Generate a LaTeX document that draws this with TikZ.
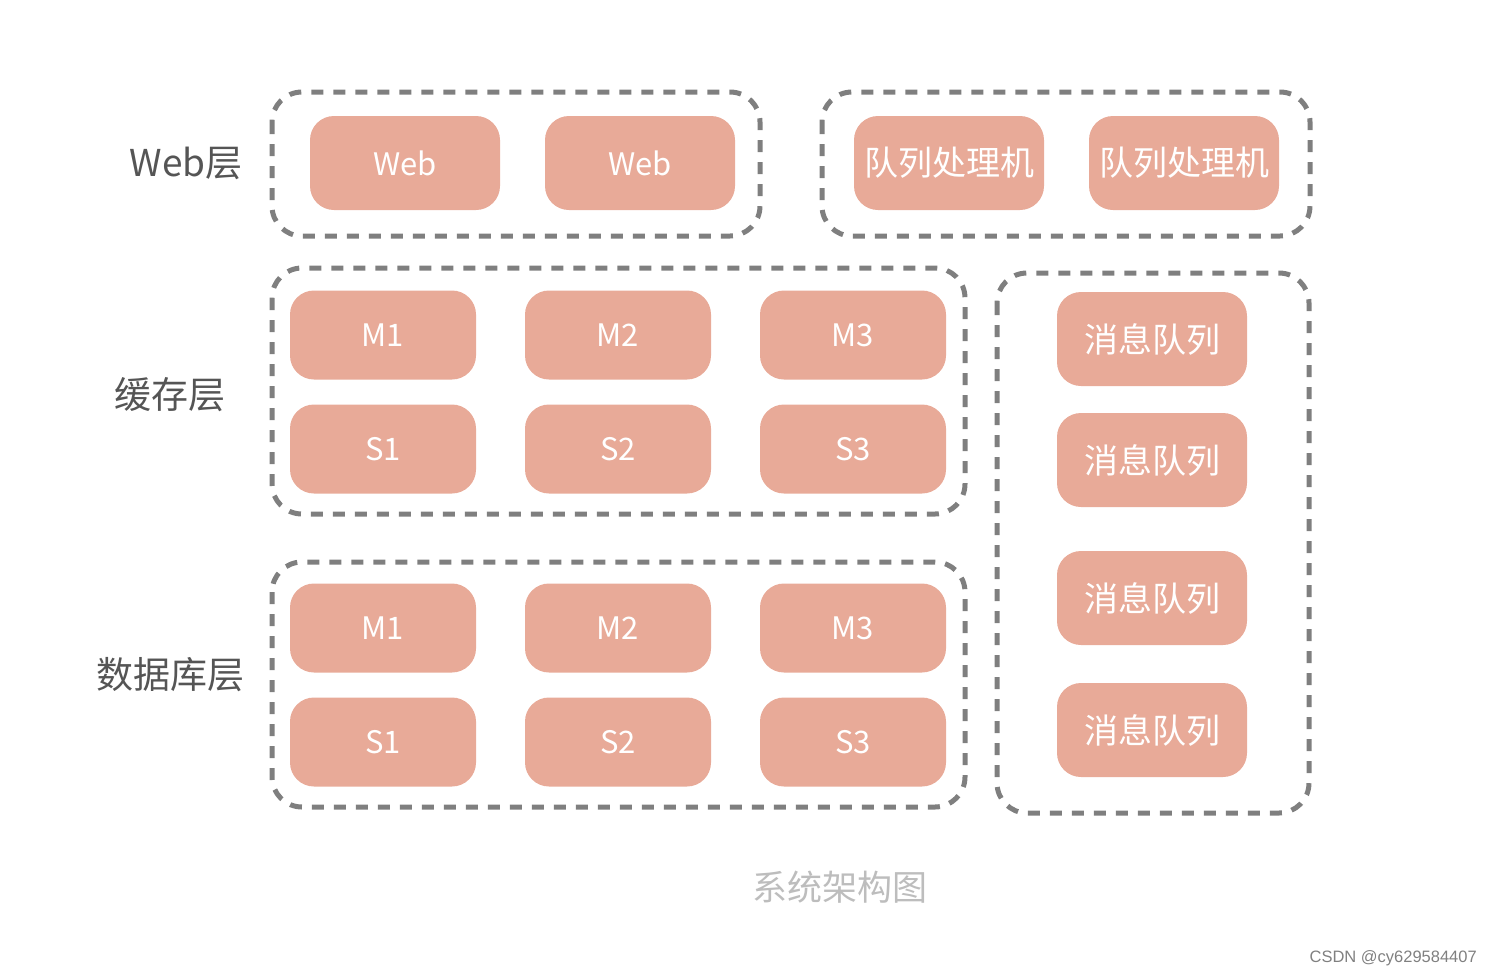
\documentclass[tikz,border=0pt]{standalone}
\usepackage{fontspec}
\setmainfont{Noto Sans CJK SC}
\newfontfamily\wmfont{Liberation Sans}
\definecolor{boxfill}{HTML}{E8AA98}
\definecolor{dashgray}{HTML}{7F7F7F}
\definecolor{labgray}{HTML}{555555}
\definecolor{capgray}{HTML}{BDBDBD}
\begin{document}
\begin{tikzpicture}[x=1pt,y=-1pt,
  pbox/.style={fill=boxfill,draw=none,rounded corners=24pt,text=white,
    font=\fontsize{31}{34}\selectfont,inner sep=0pt},
  cjkbox/.style={pbox,font=\fontsize{34}{38}\selectfont},
  grp/.style={draw=dashgray,line width=5pt,dash pattern=on 12pt off 10pt,rounded corners=30pt},
  lab/.style={text=labgray,font=\fontsize{37}{42}\selectfont,inner sep=0pt}]
\useasboundingbox (0,0) rectangle (1492,978);
% groups
\draw[grp] (272,92) rectangle (760,236);
\draw[grp] (822,92) rectangle (1310,236);
\draw[grp] (272,268) rectangle (965,514);
\draw[grp] (272,562) rectangle (965,807);
\draw[grp] (997,273) rectangle (1309,813);
% web
\node[pbox,minimum width=190pt,minimum height=94pt] (w1) at (405,163) {Web};
\node[pbox,minimum width=190pt,minimum height=94pt] (w2) at (640,163) {Web};
\node[cjkbox,minimum width=190pt,minimum height=94pt] (q1) at (949,163) {队列处理机};
\node[cjkbox,minimum width=190pt,minimum height=94pt] (q2) at (1184,163) {队列处理机};
% cache
\node[pbox,minimum width=186pt,minimum height=89pt] (cm1) at (383,335) {M1};
\node[pbox,minimum width=186pt,minimum height=89pt] (cm2) at (618,335) {M2};
\node[pbox,minimum width=186pt,minimum height=89pt] (cm3) at (853,335) {M3};
\node[pbox,minimum width=186pt,minimum height=89pt] (cs1) at (383,449) {S1};
\node[pbox,minimum width=186pt,minimum height=89pt] (cs2) at (618,449) {S2};
\node[pbox,minimum width=186pt,minimum height=89pt] (cs3) at (853,449) {S3};
% db
\node[pbox,minimum width=186pt,minimum height=89pt] (dm1) at (383,628) {M1};
\node[pbox,minimum width=186pt,minimum height=89pt] (dm2) at (618,628) {M2};
\node[pbox,minimum width=186pt,minimum height=89pt] (dm3) at (853,628) {M3};
\node[pbox,minimum width=186pt,minimum height=89pt] (ds1) at (383,742) {S1};
\node[pbox,minimum width=186pt,minimum height=89pt] (ds2) at (618,742) {S2};
\node[pbox,minimum width=186pt,minimum height=89pt] (ds3) at (853,742) {S3};
% mq
\node[cjkbox,minimum width=190pt,minimum height=94pt] (mq1) at (1152,339) {消息队列};
\node[cjkbox,minimum width=190pt,minimum height=94pt] (mq2) at (1152,460) {消息队列};
\node[cjkbox,minimum width=190pt,minimum height=94pt] (mq3) at (1152,598) {消息队列};
\node[cjkbox,minimum width=190pt,minimum height=94pt] (mq4) at (1152,730) {消息队列};
% labels
\node[lab] (l1) at (186,163) {Web层};
\node[lab] (l2) at (170,395) {缓存层};
\node[lab] (l3) at (170,675) {数据库层};
\node[text=capgray,font=\fontsize{35}{40}\selectfont,inner sep=0pt] (cap) at (840,887) {系统架构图};
\node[text=gray,font=\wmfont\fontsize{16.5}{19}\selectfont,anchor=east,inner sep=0pt] (wm) at (1477,958) {CSDN @cy629584407};
\end{tikzpicture}
\end{document}
